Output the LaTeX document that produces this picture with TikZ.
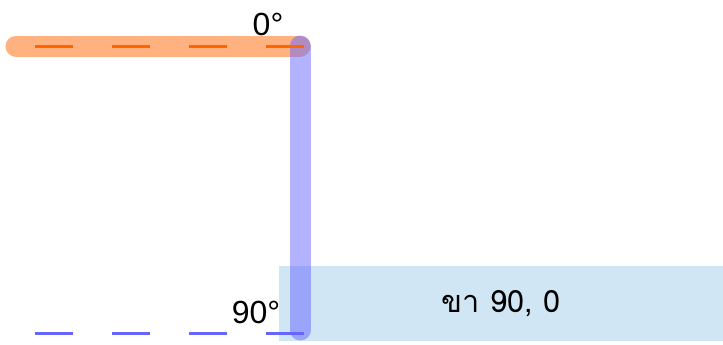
\documentclass[tikz,border=0pt]{standalone}
\usepackage{fontspec}
\setmainfont{Liberation Sans}
\newfontfamily\thaifont[Script=Thai]{Loma}
\usetikzlibrary{positioning}
\definecolor{LegOrange}{RGB}{255, 102, 0}
\definecolor{LegBlue}{RGB}{102, 102, 255}
\definecolor{BoxBlue}{RGB}{208, 230, 244}

\begin{document}
\begin{tikzpicture}[x=0.75pt, y=-0.75pt,
  thickleg/.style={line width=21*0.75pt, line cap=round, opacity=0.5},
  dashleg/.style={line width=3*0.75pt, dash pattern=on 38*0.75pt off 39*0.75pt},
  legbox/.style={fill=BoxBlue, minimum width=444*0.75pt, minimum height=75*0.75pt, inner sep=0pt, font=\thaifont\fontsize{23}{28}\selectfont}]
  \useasboundingbox (0,0) rectangle (723,344);

  % Label box
  \node[legbox] (leg) at (501,303.5) {ขา 90, 0};

  % Leg points
  \coordinate (left) at (16,46);
  \coordinate (corner) at (300,46);
  \coordinate (foot) at (300,330);
  \coordinate (dtop) at (35,46);
  \coordinate (dtopend) at (305,46);
  \coordinate (dbot) at (35,333);
  \coordinate (dbotend) at (305,333);

  % Thick legs
  \draw[thickleg, LegOrange] (left) -- (corner);
  \draw[thickleg, LegBlue] (corner) -- (foot);

  % Dashed guides
  \draw[dashleg, LegOrange] (dtop) -- (dtopend);
  \draw[dashleg, LegBlue] (dbot) -- (dbotend);

  % Angle labels
  \node[font=\fontsize{24}{28}\selectfont] (zero) at (268,24) {0°};
  \node[font=\fontsize{24}{28}\selectfont] (ninety) at (256,312) {90°};
\end{tikzpicture}
\end{document}
